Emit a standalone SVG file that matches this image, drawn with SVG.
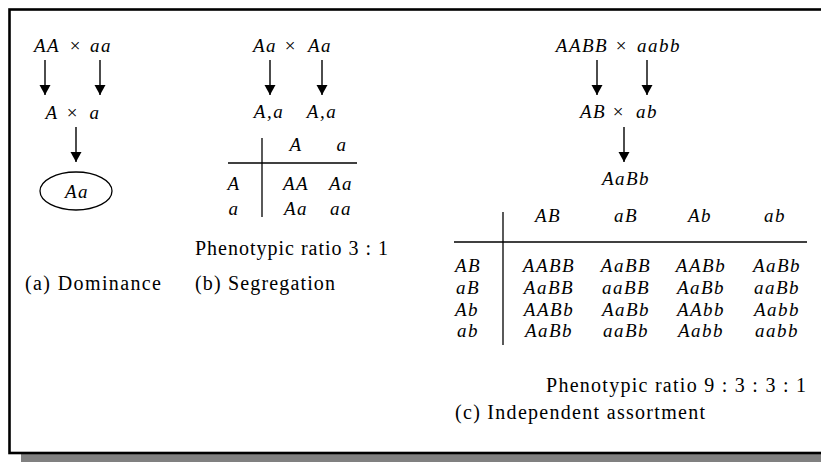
<svg xmlns="http://www.w3.org/2000/svg" width="821" height="462" viewBox="0 0 821 462">
<style>
  text { font-family: "Liberation Serif", "Times New Roman", serif; fill: #000; }
  .g { font-style: italic; font-size: 19px; letter-spacing: 1.5px; text-anchor: middle; }
  .x { font-size: 19px; text-anchor: middle; }
  .t { font-size: 20px; }
  .rl { font-style: italic; font-size: 19px; letter-spacing: 1.5px; text-anchor: start; }
  .ln { stroke: #000; stroke-width: 1.3; fill: none; }
  .arr { stroke: #000; stroke-width: 1.4; fill: none; marker-end: url(#ah); }
</style>
<defs>
  <marker id="ah" markerUnits="userSpaceOnUse" markerWidth="12" markerHeight="12" refX="10" refY="5.5" orient="auto">
    <path d="M0,0 L10,5.5 L0,11 Z" fill="#000"/>
  </marker>
</defs>

<rect id="shadow" x="21" y="21" width="820" height="441" fill="#808080"/>
<rect id="frame" x="9.5" y="9.5" width="820" height="443.5" fill="#fff" stroke="#000" stroke-width="2.6"/>

<g id="connectors">
  <line class="arr" x1="45" y1="60" x2="45" y2="95"/>
  <line class="arr" x1="100" y1="60" x2="100" y2="95"/>
  <line class="arr" x1="76" y1="127" x2="76" y2="162"/>
  <line class="arr" x1="270" y1="60" x2="270" y2="95"/>
  <line class="arr" x1="322" y1="60" x2="322" y2="95"/>
  <line class="arr" x1="597" y1="60" x2="597" y2="95"/>
  <line class="arr" x1="647" y1="60" x2="647" y2="95"/>
  <line class="arr" x1="624" y1="127" x2="624" y2="162"/>
</g>

<g id="dominance">
  <g id="a-parents">
    <text class="g" x="47" y="52">AA</text>
    <text class="x" x="75" y="52">×</text>
    <text class="g" x="101" y="52">aa</text>
  </g>
  <g id="a-gametes">
    <text class="g" x="52" y="119">A</text>
    <text class="x" x="72" y="119">×</text>
    <text class="g" x="95" y="119">a</text>
  </g>
  <g id="a-offspring">
    <ellipse cx="76" cy="191" rx="36" ry="19" class="ln"/>
    <text class="g" x="77" y="198">Aa</text>
  </g>
  <text id="a-caption" class="t" x="25" y="290" textLength="136" lengthAdjust="spacing">(a) Dominance</text>
</g>

<g id="segregation">
  <g id="b-parents">
    <text class="g" x="265" y="52">Aa</text>
    <text class="x" x="290" y="52">×</text>
    <text class="g" x="320" y="52">Aa</text>
  </g>
  <g id="b-gametes">
    <text class="g" x="269" y="118">A,a</text>
    <text class="g" x="322" y="118">A,a</text>
  </g>
  <g id="b-table">
    <line class="ln" x1="262" y1="138" x2="262" y2="217"/>
    <line class="ln" x1="228" y1="163" x2="357" y2="163"/>
    <text class="g" x="296" y="151">A</text>
    <text class="g" x="342" y="151">a</text>
    <text class="g" x="234" y="190">A</text>
    <text class="g" x="296" y="190">AA</text>
    <text class="g" x="341" y="190">Aa</text>
    <text class="g" x="234" y="215">a</text>
    <text class="g" x="296" y="215">Aa</text>
    <text class="g" x="341" y="215">aa</text>
  </g>
  <text id="b-ratio" class="t" x="195" y="255" textLength="193" lengthAdjust="spacing">Phenotypic ratio 3 : 1</text>
  <text id="b-caption" class="t" x="195" y="290" textLength="140" lengthAdjust="spacing">(b) Segregation</text>
</g>

<g id="independent">
  <g id="c-parents">
    <text class="g" x="582" y="52">AABB</text>
    <text class="x" x="621" y="52">×</text>
    <text class="g" x="659" y="52">aabb</text>
  </g>
  <g id="c-gametes">
    <text class="g" x="593" y="118">AB</text>
    <text class="x" x="618" y="118">×</text>
    <text class="g" x="647" y="118">ab</text>
  </g>
  <g id="c-f1">
    <text class="g" x="626" y="185">AaBb</text>
  </g>
  <g id="c-table">
    <line class="ln" x1="503" y1="212" x2="503" y2="345"/>
    <line class="ln" x1="454" y1="242" x2="807" y2="242"/>
    <text class="g" x="548" y="222">AB</text>
    <text class="g" x="626" y="222">aB</text>
    <text class="g" x="700" y="222">Ab</text>
    <text class="g" x="775" y="222">ab</text>

    <text class="rl" x="455" y="272">AB</text>
    <text class="g" x="549" y="272">AABB</text>
    <text class="g" x="626" y="272">AaBB</text>
    <text class="g" x="701" y="272">AABb</text>
    <text class="g" x="777" y="272">AaBb</text>

    <text class="rl" x="456" y="294">aB</text>
    <text class="g" x="549" y="294">AaBB</text>
    <text class="g" x="626" y="294">aaBB</text>
    <text class="g" x="701" y="294">AaBb</text>
    <text class="g" x="777" y="294">aaBb</text>

    <text class="rl" x="455" y="316">Ab</text>
    <text class="g" x="549" y="316">AABb</text>
    <text class="g" x="626" y="316">AaBb</text>
    <text class="g" x="701" y="316">AAbb</text>
    <text class="g" x="777" y="316">Aabb</text>

    <text class="rl" x="457" y="337">ab</text>
    <text class="g" x="549" y="337">AaBb</text>
    <text class="g" x="626" y="337">aaBb</text>
    <text class="g" x="701" y="337">Aabb</text>
    <text class="g" x="777" y="337">aabb</text>
  </g>
  <text id="c-ratio" class="t" x="546" y="392" textLength="260" lengthAdjust="spacing">Phenotypic ratio 9 : 3 : 3 : 1</text>
  <text id="c-caption" class="t" x="455" y="419" textLength="250" lengthAdjust="spacing">(c) Independent assortment</text>
</g>
</svg>
